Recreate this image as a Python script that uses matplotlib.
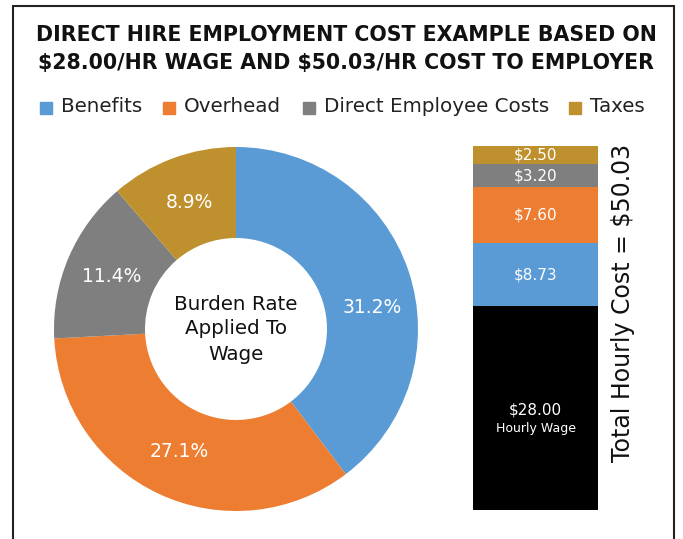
import matplotlib
matplotlib.use("Agg")
import numpy as np
import matplotlib.pyplot as plt
from matplotlib.patches import Rectangle

plt.rcParams['font.family'] = ['DejaVu Sans']
plt.rcParams['text.parse_math'] = False

categories = ["Benefits", "Overhead", "Direct Employee Costs", "Taxes"]
pct_values = [31.2, 27.1, 11.4, 8.9]
pct_labels = ["31.2%", "27.1%", "11.4%", "8.9%"]
colors = ["#5B9BD5", "#ED7D31", "#7F7F7F", "#BF912E"]

bar_names = ["Hourly Wage", "Benefits", "Overhead", "Direct Employee Costs", "Taxes"]
bar_values = [28.00, 8.73, 7.60, 3.20, 2.50]
bar_labels = ["$28.00", "$8.73", "$7.60", "$3.20", "$2.50"]
bar_colors = ["#000000"] + colors
total_label = "Total Hourly Cost = $50.03"

W, H = 683, 539
fig = plt.figure(figsize=(W / 100, H / 100), dpi=100)

# frame
fig.patches.append(Rectangle((13 / W, -0.01), (674 - 13) / W, (H - 6) / H + 0.01,
                             transform=fig.transFigure, fill=False,
                             edgecolor="#222222", linewidth=1.5))

fig.text(346 / W, 1 - 35 / H, "DIRECT HIRE EMPLOYMENT COST EXAMPLE BASED ON",
         ha="center", va="center", fontsize=14.8, fontweight="bold", color="#111111")
fig.text(346 / W, 1 - 63 / H, "$28.00/HR WAGE AND $50.03/HR COST TO EMPLOYER",
         ha="center", va="center", fontsize=14.8, fontweight="bold", color="#111111")

# legend
leg_x = [40, 163, 303, 569]
for x, name, c in zip(leg_x, categories, colors):
    fig.patches.append(Rectangle((x / W, 1 - 114 / H), 12 / W, 12 / H,
                                 transform=fig.transFigure, color=c))
    fig.text((x + 21) / W, 1 - 107 / H, name, ha="left", va="center",
             fontsize=14.3, color="#222222")

# donut
ax = fig.add_axes([54 / W, (H - 511) / H, 364 / W, 364 / H])
wedges, texts, autotexts = ax.pie(pct_values, colors=colors, startangle=90,
                                  counterclock=False,
                                  wedgeprops=dict(width=0.5, linewidth=0),
                                  autopct="%1.1f%%", pctdistance=0.74)
for t, lab in zip(autotexts, pct_labels):
    t.set_text(lab)
    t.set_color("white")
    t.set_fontsize(13.5)
# the first label sits lower in the reference than the wedge midpoint
ang = np.deg2rad(9)
autotexts[0].set_position((0.76 * np.cos(ang), 0.76 * np.sin(ang)))
ax.set_xlim(-1, 1)
ax.set_ylim(-1, 1)
ax.set_aspect("equal")
ax.text(0, 0, "Burden Rate\nApplied To\nWage", ha="center", va="center",
        fontsize=14.3, color="#111111", linespacing=1.4)

# stacked bar
bx = fig.add_axes([473 / W, (H - 510) / H, 125 / W, 364 / H])
bottom = 0
for v, c, lab, name in zip(bar_values, bar_colors, bar_labels, bar_names):
    bx.bar(0, v, bottom=bottom, width=1, color=c, linewidth=0)
    mid = bottom + v / 2
    if name == "Hourly Wage":
        bx.text(0, mid - 0.3, lab, ha="center", va="center", color="white", fontsize=11)
        bx.text(0, mid - 2.8, name, ha="center", va="center", color="white", fontsize=9)
    else:
        bx.text(0, mid, lab, ha="center", va="center", color="white", fontsize=11)
    bottom += v
bx.set_xlim(-0.5, 0.5)
bx.set_ylim(0, sum(bar_values))
bx.axis("off")

fig.text(623 / W, 1 - 303 / H, total_label, rotation=90, ha="center", va="center",
         fontsize=17, color="#111111")

fig.savefig("out.png", dpi=100)
